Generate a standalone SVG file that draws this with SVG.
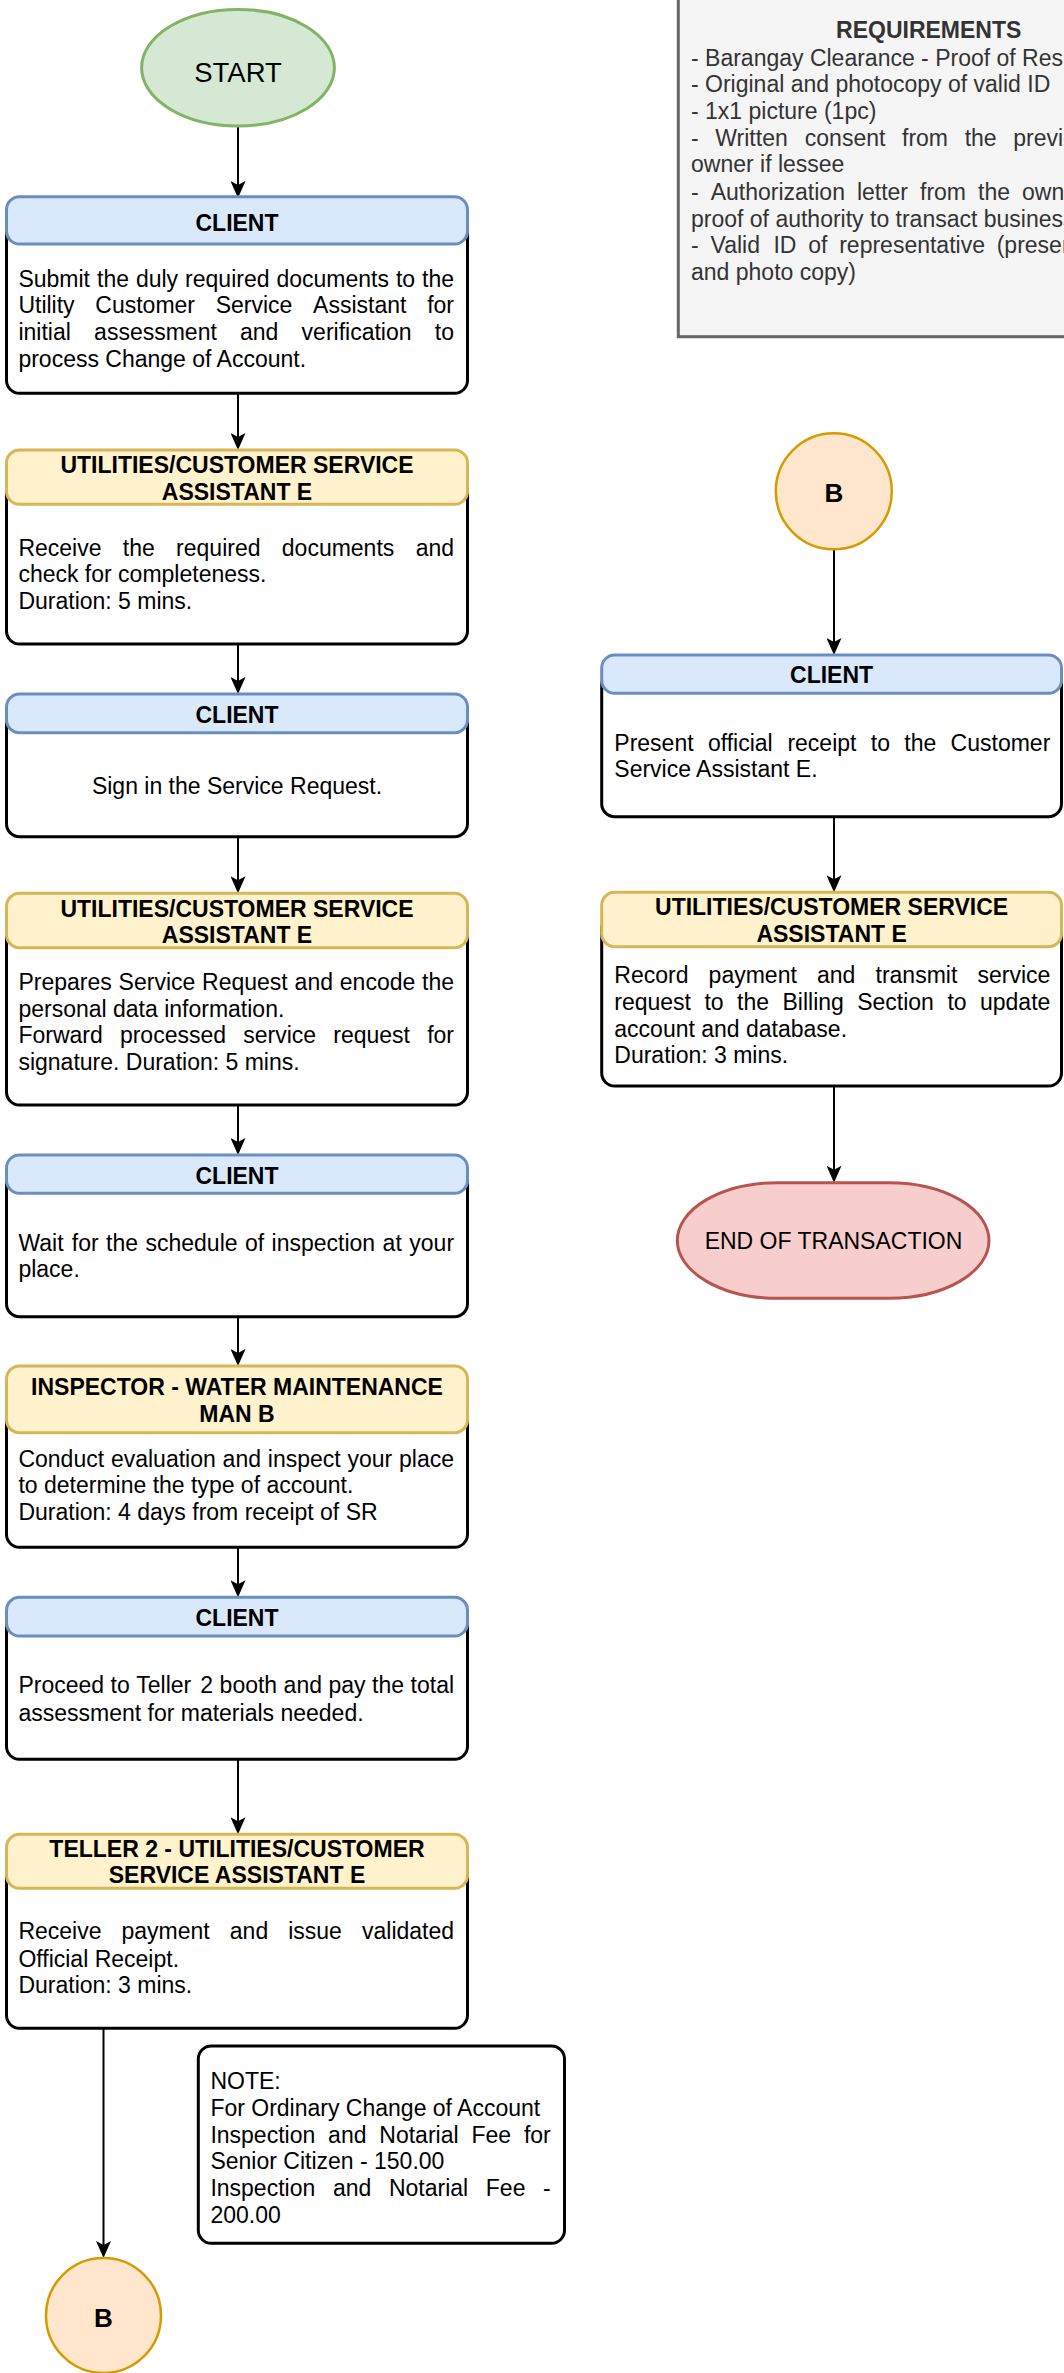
<svg xmlns="http://www.w3.org/2000/svg" width="1064" height="2373" viewBox="0 0 1064 2373">
<style>
.t{font-family:"Liberation Sans",Arial,sans-serif;font-size:23px;fill:#000}
.h{font-weight:bold;text-anchor:middle}
.c{text-anchor:middle}
.req{fill:#333333}
.hb{fill:#dae8fc;stroke:#6c8ebf;stroke-width:3}
.hy{fill:#fff2cc;stroke:#d6b656;stroke-width:3}
.bd{fill:#ffffff;stroke:#000000;stroke-width:3}
.conn line{stroke:#000;stroke-width:2;fill:none}
</style>
<defs>
<marker id="arr" viewBox="0 0 17 15" refX="11" refY="7.5" markerWidth="17" markerHeight="15" markerUnits="userSpaceOnUse" orient="auto">
<path d="M0,0 L17,7.5 L0,15 L4,7.5 Z" fill="#000"/>
</marker>
</defs>
<rect width="1064" height="2373" fill="#ffffff"/>

<g id="requirements">
<rect x="678.3" y="-10" width="501" height="346.7" fill="#f5f5f5" stroke="#666666" stroke-width="3"/>
<text class="t req h" x="928.7" y="38.3">REQUIREMENTS</text>
<text class="t req" x="691" y="65.7">- Barangay Clearance - Proof of Residency</text>
<text class="t req" x="691" y="92.3">- Original and photocopy of valid ID</text>
<text class="t req" x="691" y="119">- 1x1 picture (1pc)</text>
<text class="t req"><tspan x="691" y="145.7">-</tspan><tspan x="715.3">Written</tspan><tspan x="804.8">consent</tspan><tspan x="902">from</tspan><tspan x="964.7">the</tspan><tspan x="1013.3">previous</tspan></text>
<text class="t req" x="691" y="172.3">owner if lessee</text>
<text class="t req"><tspan x="691" y="200">-</tspan><tspan x="710.7">Authorization</tspan><tspan x="856.9">letter</tspan><tspan x="920">from</tspan><tspan x="978">the</tspan><tspan x="1022">owner</tspan></text>
<text class="t req" x="691" y="226.7">proof of authority to transact business</text>
<text class="t req"><tspan x="691" y="253.3">-</tspan><tspan x="710.5">Valid</tspan><tspan x="773.4">ID</tspan><tspan x="808.2">of</tspan><tspan x="839.2">representative</tspan><tspan x="996.7">(present</tspan></text>
<text class="t req" x="691" y="280">and photo copy)</text>
</g>

<g class="conn" id="connectors">
<line x1="238" y1="126" x2="238" y2="192" marker-end="url(#arr)"/>
<line x1="238" y1="393.3" x2="238" y2="444" marker-end="url(#arr)"/>
<line x1="238" y1="644" x2="238" y2="688" marker-end="url(#arr)"/>
<line x1="238" y1="836.7" x2="238" y2="887.3" marker-end="url(#arr)"/>
<line x1="238" y1="1105" x2="238" y2="1149" marker-end="url(#arr)"/>
<line x1="238" y1="1316.7" x2="238" y2="1360" marker-end="url(#arr)"/>
<line x1="238" y1="1547.3" x2="238" y2="1591.3" marker-end="url(#arr)"/>
<line x1="238" y1="1759.3" x2="238" y2="1828.3" marker-end="url(#arr)"/>
<line x1="103.5" y1="2028.3" x2="103.5" y2="2252" marker-end="url(#arr)"/>
<line x1="834" y1="549.3" x2="834" y2="649" marker-end="url(#arr)"/>
<line x1="834" y1="816.7" x2="834" y2="886.3" marker-end="url(#arr)"/>
<line x1="834" y1="1086" x2="834" y2="1176.7" marker-end="url(#arr)"/>
</g>

<g id="start">
<ellipse cx="238" cy="67.7" rx="96.4" ry="58.3" fill="#d5e8d4" stroke="#82b366" stroke-width="3"/>
<text class="t c" x="238" y="82" style="font-size:27.5px">START</text>
</g>

<g id="client1">
<rect class="bd" x="6.5" y="215" width="461" height="178.3" rx="13"/>
<rect class="hb" x="6.5" y="196.7" width="461" height="47.3" rx="13"/>
<text class="t h" x="237" y="231">CLIENT</text>
<text class="t"><tspan x="18.4" y="286.7">Submit</tspan><tspan x="97">the</tspan><tspan x="135.9">duly</tspan><tspan x="185.1">required</tspan><tspan x="276.4">documents</tspan><tspan x="395.9">to</tspan><tspan x="422.1">the</tspan></text>
<text class="t"><tspan x="18.4" y="313.3">Utility</tspan><tspan x="95.3">Customer</tspan><tspan x="215.7">Service</tspan><tspan x="313.1">Assistant</tspan><tspan x="427.2">for</tspan></text>
<text class="t"><tspan x="18.4" y="340">initial</tspan><tspan x="94.1">assessment</tspan><tspan x="240">and</tspan><tspan x="301.6">verification</tspan><tspan x="434.8">to</tspan></text>
<text class="t" x="18.4" y="366.7">process Change of Account.</text>
</g>

<g id="assistant1">
<rect class="bd" x="6.5" y="470" width="461" height="174" rx="13"/>
<rect class="hy" x="6.5" y="450" width="461" height="54.3" rx="13"/>
<text class="t h" x="237" y="472.7">UTILITIES/CUSTOMER SERVICE</text>
<text class="t h" x="237" y="500">ASSISTANT E</text>
<text class="t"><tspan x="18.4" y="556">Receive</tspan><tspan x="122.8">the</tspan><tspan x="176.1">required</tspan><tspan x="281.8">documents</tspan><tspan x="415.7">and</tspan></text>
<text class="t" x="18.4" y="582.3">check for completeness.</text>
<text class="t" x="18.4" y="608.7">Duration: 5 mins.</text>
</g>

<g id="client2">
<rect class="bd" x="6.5" y="710" width="461" height="126.7" rx="13"/>
<rect class="hb" x="6.5" y="694" width="461" height="38.7" rx="13"/>
<text class="t h" x="237" y="722.7">CLIENT</text>
<text class="t c" x="237" y="794">Sign in the Service Request.</text>
</g>

<g id="assistant2">
<rect class="bd" x="6.5" y="915" width="461" height="190" rx="13"/>
<rect class="hy" x="6.5" y="893.3" width="461" height="54.4" rx="13"/>
<text class="t h" x="237" y="916.7">UTILITIES/CUSTOMER SERVICE</text>
<text class="t h" x="237" y="943.3">ASSISTANT E</text>
<text class="t"><tspan x="18.4" y="990">Prepares</tspan><tspan x="118.6">Service</tspan><tspan x="202.1">Request</tspan><tspan x="294.6">and</tspan><tspan x="339.8">encode</tspan><tspan x="422">the</tspan></text>
<text class="t" x="18.4" y="1016.7">personal data information.</text>
<text class="t"><tspan x="18.4" y="1043.3">Forward</tspan><tspan x="119.9">processed</tspan><tspan x="243.2">service</tspan><tspan x="333.3">request</tspan><tspan x="427.2">for</tspan></text>
<text class="t" x="18.4" y="1070">signature. Duration: 5 mins.</text>
</g>

<g id="client3">
<rect class="bd" x="6.5" y="1172" width="461" height="144.7" rx="13"/>
<rect class="hb" x="6.5" y="1155" width="461" height="38.3" rx="13"/>
<text class="t h" x="237" y="1184">CLIENT</text>
<text class="t"><tspan x="18.4" y="1250.7">Wait</tspan><tspan x="71.8">for</tspan><tspan x="106.1">the</tspan><tspan x="145.5">schedule</tspan><tspan x="245">of</tspan><tspan x="271.6">inspection</tspan><tspan x="382.6">at</tspan><tspan x="409.3">your</tspan></text>
<text class="t" x="18.4" y="1277.3">place.</text>
</g>

<g id="inspector">
<rect class="bd" x="6.5" y="1395" width="461" height="152.3" rx="13"/>
<rect class="hy" x="6.5" y="1366" width="461" height="66.7" rx="13"/>
<text class="t h" x="237" y="1395">INSPECTOR - WATER MAINTENANCE</text>
<text class="t h" x="237" y="1422.3">MAN B</text>
<text class="t"><tspan x="18.4" y="1466.7">Conduct</tspan><tspan x="110.9">evaluation</tspan><tspan x="222.6">and</tspan><tspan x="267.8">inspect</tspan><tspan x="347.5">your</tspan><tspan x="399">place</tspan></text>
<text class="t" x="18.4" y="1493.3">to determine the type of account.</text>
<text class="t" x="18.4" y="1520">Duration: 4 days from receipt of SR</text>
</g>

<g id="client4">
<rect class="bd" x="6.5" y="1615" width="461" height="144.3" rx="13"/>
<rect class="hb" x="6.5" y="1597.3" width="461" height="38.7" rx="13"/>
<text class="t h" x="237" y="1626">CLIENT</text>
<text class="t"><tspan x="18.4" y="1693.3">Proceed</tspan><tspan x="110.6">to</tspan><tspan x="136.3">Teller</tspan><tspan x="200.3">2</tspan><tspan x="219.6">booth</tspan><tspan x="283.6">and</tspan><tspan x="328.5">pay</tspan><tspan x="372.1">the</tspan><tspan x="410.6">total</tspan></text>
<text class="t" x="18.4" y="1720.7">assessment for materials needed.</text>
</g>

<g id="teller">
<rect class="bd" x="6.5" y="1855" width="461" height="173.3" rx="13"/>
<rect class="hy" x="6.5" y="1834.3" width="461" height="54" rx="13"/>
<text class="t h" x="237" y="1856.7">TELLER 2 - UTILITIES/CUSTOMER</text>
<text class="t h" x="237" y="1883.3">SERVICE ASSISTANT E</text>
<text class="t"><tspan x="18.4" y="1939.3">Receive</tspan><tspan x="121.5">payment</tspan><tspan x="229.8">and</tspan><tspan x="288.2">issue</tspan><tspan x="362">validated</tspan></text>
<text class="t" x="18.4" y="1966.7">Official Receipt.</text>
<text class="t" x="18.4" y="1993.3">Duration: 3 mins.</text>
</g>

<g id="note">
<rect x="198.3" y="2046" width="366.2" height="197.3" rx="13" fill="#ffffff" stroke="#000" stroke-width="3"/>
<text class="t" x="210.4" y="2089.3">NOTE:</text>
<text class="t" x="210.4" y="2116">For Ordinary Change of Account</text>
<text class="t"><tspan x="210.4" y="2142.7">Inspection</tspan><tspan x="328.1">and</tspan><tspan x="379.3">Notarial</tspan><tspan x="471.4">Fee</tspan><tspan x="523.9">for</tspan></text>
<text class="t" x="210.4" y="2169.3">Senior Citizen - 150.00</text>
<text class="t"><tspan x="210.4" y="2196">Inspection</tspan><tspan x="332.9">and</tspan><tspan x="388.9">Notarial</tspan><tspan x="485.8">Fee</tspan><tspan x="543.1">-</tspan></text>
<text class="t" x="210.4" y="2223.3">200.00</text>
</g>

<g id="connectorB1">
<circle cx="103.5" cy="2315.5" r="57.5" fill="#ffe6cc" stroke="#d79b00" stroke-width="2.5"/>
<text class="t h" x="103.5" y="2327" style="font-size:26px">B</text>
</g>

<g id="connectorB2">
<circle cx="833.8" cy="491.3" r="58" fill="#ffe6cc" stroke="#d79b00" stroke-width="2.5"/>
<text class="t h" x="833.8" y="502" style="font-size:26px">B</text>
</g>

<g id="client5">
<rect class="bd" x="601.7" y="672" width="459.8" height="144.7" rx="13"/>
<rect class="hb" x="601.7" y="655" width="459.8" height="38.3" rx="13"/>
<text class="t h" x="831.6" y="682.5">CLIENT</text>
<text class="t"><tspan x="614.3" y="750.7">Present</tspan><tspan x="707.9">official</tspan><tspan x="787.4">receipt</tspan><tspan x="870.8">to</tspan><tspan x="904.3">the</tspan><tspan x="950.6">Customer</tspan></text>
<text class="t" x="614.3" y="777.3">Service Assistant E.</text>
</g>

<g id="assistant3">
<rect class="bd" x="601.7" y="915" width="459.8" height="171" rx="13"/>
<rect class="hy" x="601.7" y="892.3" width="459.8" height="54.4" rx="13"/>
<text class="t h" x="831.6" y="915">UTILITIES/CUSTOMER SERVICE</text>
<text class="t h" x="831.6" y="941.7">ASSISTANT E</text>
<text class="t"><tspan x="614.3" y="983.3">Record</tspan><tspan x="708.6">payment</tspan><tspan x="817">and</tspan><tspan x="875.5">transmit</tspan><tspan x="977.5">service</tspan></text>
<text class="t"><tspan x="614.3" y="1010">request</tspan><tspan x="704.4">to</tspan><tspan x="737.1">the</tspan><tspan x="782.5">Billing</tspan><tspan x="857.2">Section</tspan><tspan x="947.4">to</tspan><tspan x="980">update</tspan></text>
<text class="t" x="614.3" y="1036.7">account and database.</text>
<text class="t" x="614.3" y="1063.3">Duration: 3 mins.</text>
</g>

<g id="end">
<rect x="677.3" y="1182.7" width="311.7" height="115.6" rx="100" ry="57.8" fill="#f8cecc" stroke="#b85450" stroke-width="3"/>
<text class="t c" x="833.5" y="1249">END OF TRANSACTION</text>
</g>
</svg>
